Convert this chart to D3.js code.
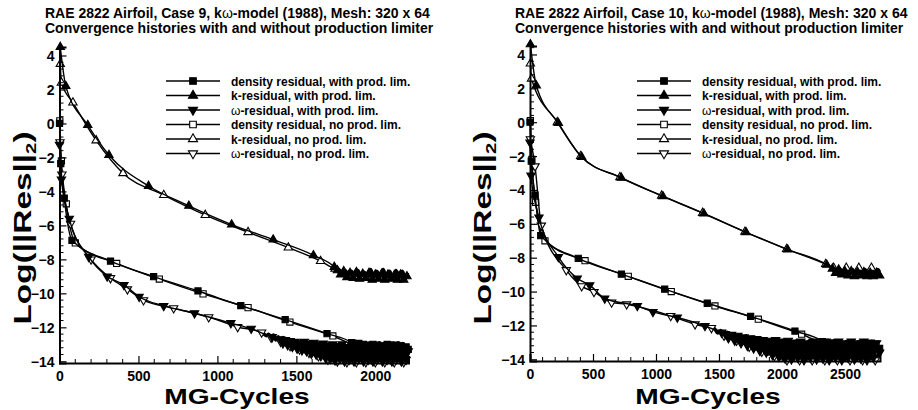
<!DOCTYPE html>
<html>
<head>
<meta charset="utf-8">
<script src="https://cdn.jsdelivr.net/npm/d3@7"></script>
<style>
  body { margin: 0; background: #fff; }
  svg { display: block; font-family: "Liberation Sans", Arial, Helvetica, sans-serif; }
</style>
</head>
<body>
<script>

// ---- data: [MG cycle, log10 residual] ----

// Case 9
const c9DensLim = [[0,0],[8,-2.36],[30,-4.4],[79,-6.88],[323,-8.1],[596,-9.02],[877,-9.86],[1148,-10.72],[1429,-11.55],[1694,-12.37],[1850,-12.9],
  [1865,-13.0],[1880,-13.2],[1895,-12.95],[1910,-13.3],[1925,-13.0],[1940,-13.35],[1955,-13.05],[1970,-13.3],[1985,-13.0],[2000,-13.4],[2015,-13.05],[2030,-13.35],[2045,-13.1],[2060,-13.4],[2075,-13.0],[2090,-13.35],[2105,-13.1],[2120,-13.4],[2135,-13.05],[2150,-13.35],[2165,-13.1],[2180,-13.4],[2195,-13.15],[2208,-13.3]];
const c9KLim = [[5,4.5],[40,2.2],[179,-0.1],[313,-1.86],[564,-3.68],[819,-4.85],[1090,-5.95],[1353,-6.84],[1608,-7.76],[1740,-8.45],
  [1760,-8.65],[1780,-8.9],[1800,-8.7],[1820,-9.05],[1840,-8.8],[1860,-9.1],[1880,-8.75],[1900,-9.15],[1920,-8.85],[1940,-9.1],[1960,-8.8],[1980,-9.2],[2000,-8.9],[2020,-9.15],[2040,-8.85],[2060,-9.2],[2080,-8.9],[2100,-9.15],[2120,-8.95],[2140,-9.2],[2160,-8.9],[2180,-9.2],[2200,-9.0]];
const c9WLim = [[0,-1.25],[12,-3.3],[62,-5.6],[185,-7.85],[302,-9.0],[408,-9.5],[504,-10.2],[660,-10.74],[855,-11.17],[1085,-11.75],[1214,-12.08],[1347,-12.57],
  [1400,-12.7],[1415,-12.95],[1430,-12.75],[1445,-13.05],[1460,-12.8],[1475,-13.15],[1490,-12.85],[1505,-13.25],[1520,-12.9],[1535,-13.35],[1550,-12.85],[1565,-13.4],[1580,-12.95],[1595,-13.55],[1610,-12.9],[1625,-13.6],[1640,-13.0],[1655,-13.7],[1670,-12.95],[1685,-13.8],[1700,-13.05],[1715,-13.85],[1730,-13.0],[1745,-13.95],[1760,-13.1],[1775,-13.85],[1790,-13.0],[1805,-14.0],[1820,-13.15],[1835,-13.9],[1850,-13.05],[1865,-14.0],[1880,-13.2],[1895,-13.85],[1910,-13.0],[1925,-14.0],[1940,-13.15],[1955,-13.9],[1970,-13.05],[1985,-14.0],[2000,-13.2],[2015,-13.85],[2030,-13.05],[2045,-14.0],[2060,-13.15],[2075,-13.9],[2090,-13.0],[2105,-14.0],[2120,-13.2],[2135,-13.85],[2150,-13.05],[2165,-14.0],[2180,-13.15],[2195,-13.9],[2208,-13.4]];
const c9DensNo = [[2,0.15],[12,-2.2],[43,-4.73],[100,-7.03],[362,-8.24],[632,-9.16],[909,-10.03],[1194,-10.84],[1459,-11.69],[1731,-12.51],[1860,-12.95],
  [1875,-12.95],[1890,-13.15],[1905,-12.9],[1920,-13.25],[1935,-12.95],[1950,-13.2],[1965,-12.9],[1980,-13.3],[1995,-12.95],[2010,-13.2],[2025,-12.9],[2040,-13.3],[2055,-12.95],[2070,-13.25],[2085,-12.9],[2100,-13.3],[2115,-13.0],[2130,-13.25],[2145,-12.9],[2160,-13.3],[2175,-12.95],[2190,-13.2],[2205,-13.05]];
const c9KNo = [[5,3.5],[12,2.4],[85,1.23],[232,-1.0],[402,-2.93],[660,-4.22],[923,-5.39],[1194,-6.4],[1449,-7.31],[1653,-8.1],[1745,-8.55],
  [1770,-8.6],[1790,-8.85],[1810,-8.65],[1830,-8.95],[1850,-8.7],[1870,-9.0],[1890,-8.65],[1910,-9.05],[1930,-8.75],[1950,-9.0],[1970,-8.6],[1990,-9.05],[2010,-8.7],[2030,-9.0],[2050,-8.6],[2070,-9.1],[2090,-8.7],[2110,-9.05],[2130,-8.65],[2150,-9.0],[2170,-8.7],[2190,-9.05],[2205,-8.8]];
const c9WNo = [[3,-1.1],[15,-3.0],[70,-5.9],[200,-8.0],[323,-9.1],[430,-9.76],[532,-10.4],[723,-10.87],[945,-11.4],[1128,-11.98],[1280,-12.3],
  [1295,-12.4],[1310,-12.5],[1325,-12.4],[1340,-12.6],[1355,-12.45],[1370,-12.75],[1385,-12.55],[1400,-12.85],[1415,-12.6],[1430,-13.0],[1445,-12.7],[1460,-13.1],[1475,-12.75],[1490,-13.2],[1505,-12.8],[1520,-13.3],[1535,-12.85],[1550,-13.45],[1565,-12.9],[1580,-13.5],[1595,-12.85],[1610,-13.6],[1625,-12.95],[1640,-13.7],[1655,-12.9],[1670,-13.8],[1685,-13.0],[1700,-13.9],[1715,-12.95],[1730,-13.95],[1745,-13.05],[1760,-14.0],[1775,-12.95],[1790,-13.9],[1805,-13.1],[1820,-14.05],[1835,-13.0],[1850,-13.9],[1865,-13.1],[1880,-14.05],[1895,-12.95],[1910,-13.95],[1925,-13.1],[1940,-14.05],[1955,-13.0],[1970,-13.9],[1985,-13.1],[2000,-14.05],[2015,-12.95],[2030,-13.95],[2045,-13.05],[2060,-14.05],[2075,-13.0],[2090,-13.9],[2105,-13.1],[2120,-14.05],[2135,-12.95],[2150,-13.95],[2165,-13.05],[2180,-14.05],[2195,-13.1],[2207,-13.5]];

// Case 10
const c10DensLim = [[0,0],[10,-2.3],[40,-4.3],[85,-6.7],[383,-8.04],[725,-8.97],[1069,-9.86],[1407,-10.69],[1751,-11.47],[2103,-12.33],[2320,-12.95],
  [2345,-13.1],[2370,-13.35],[2395,-13.05],[2420,-13.45],[2445,-13.1],[2470,-13.5],[2495,-13.15],[2520,-13.45],[2545,-13.05],[2570,-13.55],[2595,-13.15],[2620,-13.5],[2645,-13.1],[2670,-13.55],[2695,-13.15],[2720,-13.5],[2745,-13.1],[2775,-13.35]];
const c10KLim = [[3,4.6],[50,2.17],[225,-0.05],[410,-2.05],[725,-3.28],[1055,-4.38],[1380,-5.4],[1715,-6.5],[2045,-7.52],[2355,-8.42],
  [2400,-8.65],[2425,-8.9],[2450,-8.7],[2475,-9.0],[2500,-8.8],[2525,-9.05],[2550,-8.8],[2575,-9.1],[2600,-8.85],[2625,-9.05],[2650,-8.85],[2675,-9.1],[2700,-8.9],[2725,-9.1],[2750,-8.9],[2775,-9.05]];
const c10WLim = [[0,-1.2],[8,-3.15],[71,-5.62],[225,-7.95],[375,-9.22],[474,-9.62],[593,-10.41],[852,-10.85],[976,-11.2],[1169,-11.53],[1389,-12.03],[1521,-12.42],
  [1550,-12.5],[1575,-12.75],[1600,-12.55],[1625,-12.9],[1650,-12.6],[1675,-13.05],[1700,-12.7],[1725,-13.2],[1750,-12.75],[1775,-13.35],[1800,-12.8],[1825,-13.5],[1850,-12.85],[1875,-13.6],[1900,-12.9],[1925,-13.75],[1950,-12.85],[1975,-13.85],[2000,-12.95],[2025,-13.95],[2050,-12.9],[2075,-14.0],[2100,-13.0],[2125,-13.9],[2150,-12.95],[2175,-14.05],[2200,-13.05],[2225,-13.9],[2250,-12.95],[2275,-14.0],[2300,-13.05],[2325,-13.95],[2350,-12.95],[2375,-14.05],[2400,-13.0],[2425,-13.9],[2450,-12.95],[2475,-14.05],[2500,-13.05],[2525,-13.9],[2550,-12.95],[2575,-14.0],[2600,-13.05],[2625,-13.95],[2650,-12.95],[2675,-14.05],[2700,-13.0],[2725,-13.9],[2750,-13.05],[2775,-13.6]];
const c10DensNo = [[3,0.1],[15,-2.2],[45,-4.73],[119,-7.0],[437,-8.18],[780,-9.1],[1121,-10.0],[1468,-10.85],[1812,-11.63],[2156,-12.52],[2340,-13.0],
  [2360,-13.0],[2385,-13.3],[2410,-12.95],[2435,-13.35],[2460,-13.0],[2485,-13.4],[2510,-12.95],[2535,-13.35],[2560,-13.05],[2585,-13.4],[2610,-12.95],[2635,-13.35],[2660,-13.0],[2685,-13.4],[2710,-12.95],[2735,-13.35],[2760,-13.05]];
const c10KNo = [[3,3.46],[12,2.57],[217,0.0],[402,-2.0],[714,-3.25],[1045,-4.34],[1370,-5.36],[1706,-6.47],[2037,-7.49],[2347,-8.38],
  [2410,-8.6],[2435,-8.85],[2460,-8.65],[2485,-8.95],[2510,-8.6],[2535,-9.0],[2560,-8.7],[2585,-8.95],[2610,-8.6],[2635,-9.0],[2660,-8.7],[2685,-9.0],[2710,-8.6],[2735,-9.0],[2760,-8.7],[2775,-8.85]];
const c10WNo = [[3,-1.0],[40,-2.6],[90,-6.1],[288,-8.73],[410,-9.68],[508,-10.02],[648,-10.64],[767,-10.75],[1117,-11.44],[1310,-11.93],[1440,-12.15],
  [1465,-12.2],[1490,-12.45],[1515,-12.3],[1540,-12.6],[1565,-12.4],[1590,-12.75],[1615,-12.5],[1640,-12.9],[1665,-12.55],[1690,-13.05],[1715,-12.6],[1740,-13.25],[1765,-12.7],[1790,-13.4],[1815,-12.75],[1840,-13.55],[1865,-12.8],[1890,-13.7],[1915,-12.85],[1940,-13.8],[1965,-12.9],[1990,-13.95],[2015,-12.85],[2040,-14.05],[2065,-12.95],[2090,-13.9],[2115,-12.9],[2140,-14.05],[2165,-13.0],[2190,-13.95],[2215,-12.9],[2240,-14.05],[2265,-13.0],[2290,-13.9],[2315,-12.95],[2340,-14.05],[2365,-13.0],[2390,-13.95],[2415,-12.9],[2440,-14.05],[2465,-13.0],[2490,-13.9],[2515,-12.95],[2540,-14.05],[2565,-13.05],[2590,-13.95],[2615,-12.95],[2640,-14.05],[2665,-13.0],[2690,-13.9],[2715,-12.95],[2740,-14.05],[2770,-13.5]];

const legendLabels = [
  ["density residual, with prod. lim."],
  ["k-residual, with prod. lim."],
  ["\u03c9", "-residual, with prod. lim."],
  ["density residual, no prod. lim."],
  ["k-residual, no prod. lim."],
  ["\u03c9", "-residual, no prod. lim."]
];
const yTicks = [-14, -12, -10, -8, -6, -4, -2, 0, 2, 4];
const xTicks9 = [0, 500, 1000, 1500, 2000];
const xTicks10 = [0, 500, 1000, 1500, 2000, 2500];

// marker style per legend row
const markers = [
  { type: d3.symbolSquare, fill: "#000", rot: 0 },
  { type: d3.symbolTriangle, fill: "#000", rot: 0 },
  { type: d3.symbolTriangle, fill: "#000", rot: 180 },
  { type: d3.symbolSquare, fill: "#fff", rot: 0 },
  { type: d3.symbolTriangle, fill: "#fff", rot: 0 },
  { type: d3.symbolTriangle, fill: "#fff", rot: 180 }
];

const svg = d3.select("body").append("svg")
  .attr("width", 918)
  .attr("height", 410);

function symSize(m) {
  return m.type === d3.symbolSquare ? 38 : 30;
}

// index where the noisy, densely recorded tail starts
function tailStart(s) {
  let i = s.length - 1;
  while (i > 0 && s[i][0] - s[i - 1][0] <= 35) i--;
  return i;
}

// open markers: every point of the smooth part, every 4th point of the tail
function showMarker(s, i, open) {
  if (!open) return true;
  const t0 = tailStart(s);
  return i <= t0 || (i - t0) % 4 === 0;
}

function drawPanel(p) {
  const x = d3.scaleLinear().domain([0, p.xMax]).range([p.left, p.right]);
  const y = d3.scaleLinear().domain([-14.1, 4.5]).range([p.bottom, p.top]);

  const g = svg.append("g");

  // title
  const t = g.append("text")
    .attr("font-size", 14)
    .attr("font-weight", "bold");
  t.append("tspan").attr("x", p.titleX).attr("y", 18).text(p.title[0]);
  t.append("tspan").attr("font-weight", "normal").text("\u03c9");
  t.append("tspan").text(p.title[1]);
  g.append("text")
    .attr("x", p.titleX).attr("y", 33)
    .attr("font-size", 14).attr("font-weight", "bold")
    .text("Convergence histories with and without production limiter");

  const line = d3.line()
    .x(d => x(d[0]))
    .y(d => y(d[1]))
    .curve(d3.curveMonotoneX);

  // series: no-lim first, with-lim on top
  const order = [3, 4, 5, 0, 1, 2];
  order.forEach(i => {
    const s = p.series[i];
    const m = markers[i];
    g.append("path")
      .datum(s)
      .attr("fill", "none")
      .attr("stroke", "#000")
      .attr("stroke-width", 1.4)
      .attr("d", line);
    // the oscillating tail is recorded every cycle in the original, so it prints as a solid band
    g.append("path")
      .datum(s.slice(tailStart(s)))
      .attr("fill", "none")
      .attr("stroke", "#000")
      .attr("stroke-width", 3.4)
      .attr("d", line);
    g.selectAll(null)
      .data(s.filter((d, k) => showMarker(s, k, i >= 3)))
      .enter()
      .append("path")
      .attr("d", d3.symbol().type(m.type).size(symSize(m)))
      .attr("transform", d => "translate(" + x(d[0]) + "," + y(d[1]) + ") rotate(" + m.rot + ")")
      .attr("fill", m.fill)
      .attr("stroke", "#000")
      .attr("stroke-width", 1.1);
  });

  // axes (left + bottom, ticks inward)
  const xAxis = g.append("g").attr("transform", "translate(0," + p.bottom + ")");
  xAxis.call(d3.axisBottom(x).tickValues(p.xTicks).tickSize(-7).tickPadding(8).tickFormat(d3.format("d")));
  const minorX = d3.range(100, p.xMax, 100).filter(v => v % 500 !== 0);
  xAxis.selectAll(".minor").data(minorX).enter().append("line")
    .attr("x1", d => x(d)).attr("x2", d => x(d))
    .attr("y1", 0).attr("y2", -4)
    .attr("stroke", "#000");

  const yAxis = g.append("g").attr("transform", "translate(" + p.left + ",0)");
  yAxis.call(d3.axisLeft(y).tickValues(yTicks).tickSize(-7).tickPadding(5).tickFormat(d3.format("d")));
  const minorY = d3.range(-14, 4.5, 0.4).filter(v => Math.abs(v / 2 - Math.round(v / 2)) > 0.01);
  yAxis.selectAll(".minor").data(minorY).enter().append("line")
    .attr("x1", 0).attr("x2", 4)
    .attr("y1", d => y(d)).attr("y2", d => y(d))
    .attr("stroke", "#000");

  [xAxis, yAxis].forEach(a => {
    a.select(".domain").attr("stroke-width", 2);
    a.selectAll(".tick line").attr("stroke-width", 1.2);
    a.selectAll("text")
      .attr("font-size", 14)
      .attr("font-weight", "bold")
      .attr("font-family", "Liberation Sans, Arial, sans-serif")
      .attr("fill", "#000");
  });
  yAxis.selectAll(".tick text").attr("dy", "0.36em");

  // axis titles (the original lettering is wide, so stretch horizontally)
  g.append("text")
    .attr("transform", "translate(" + ((p.left + p.right) / 2 + 3) + ",404) scale(1.28,1)")
    .attr("text-anchor", "middle")
    .attr("font-size", 22)
    .attr("font-weight", "bold")
    .text("MG-Cycles");

  const yl = g.append("text")
    .attr("transform", "translate(" + p.yTitleX + ",228) rotate(-90) scale(1.45,1)")
    .attr("text-anchor", "middle")
    .attr("font-size", 23)
    .attr("font-weight", "bold");
  yl.append("tspan").text("Log(||Res||");
  yl.append("tspan").attr("font-size", 14).attr("dy", 5).text("2");
  yl.append("tspan").attr("dy", -5).text(")");

  // legend
  const lg = g.append("g");
  legendLabels.forEach((lab, i) => {
    const ly = 81 + i * 14.5;
    lg.append("line")
      .attr("x1", p.legX).attr("x2", p.legX + 54)
      .attr("y1", ly).attr("y2", ly)
      .attr("stroke", "#000").attr("stroke-width", 1.3);
    lg.append("path")
      .attr("d", d3.symbol().type(markers[i].type).size(symSize(markers[i]) + 6))
      .attr("transform", "translate(" + (p.legX + 27) + "," + ly + ") rotate(" + markers[i].rot + ")")
      .attr("fill", markers[i].fill)
      .attr("stroke", "#000")
      .attr("stroke-width", 1.1);
    const tx = lg.append("text")
      .attr("x", p.legX + 65)
      .attr("y", ly + 4.5)
      .attr("font-size", 12)
      .attr("font-weight", "bold");
    if (lab.length === 2) {
      tx.append("tspan").attr("font-weight", "normal").text(lab[0]);
      tx.append("tspan").text(lab[1]);
    } else {
      tx.text(lab[0]);
    }
  });
}

drawPanel({
  left: 59.5, right: 408.5, top: 47, bottom: 363, xMax: 2210,
  xTicks: xTicks9,
  title: ["RAE 2822 Airfoil, Case 9, k", "-model (1988), Mesh: 320 x 64"],
  titleX: 45, yTitleX: 31, legX: 166,
  series: [c9DensLim, c9KLim, c9WLim, c9DensNo, c9KNo, c9WNo]
});

drawPanel({
  left: 530, right: 880, top: 46, bottom: 361, xMax: 2778,
  xTicks: xTicks10,
  title: ["RAE 2822 Airfoil, Case 10, k", "-model (1988), Mesh: 320 x 64"],
  titleX: 515, yTitleX: 491, legX: 637,
  series: [c10DensLim, c10KLim, c10WLim, c10DensNo, c10KNo, c10WNo]
});

</script>
</body>
</html>
